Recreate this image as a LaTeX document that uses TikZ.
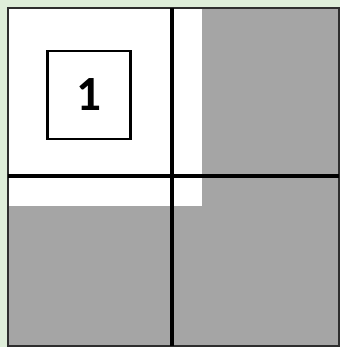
\documentclass[tikz,border=0pt]{standalone}
\usepackage{fontspec}
\setmainfont{Carlito}
\definecolor{gridgreen}{HTML}{DFEEDA}
\definecolor{gridgray}{HTML}{A5A5A5}
\definecolor{griddark}{HTML}{2E2E2E}

\begin{document}
\begin{tikzpicture}[
  x=0.2mm, y=-0.2mm,
  divider/.style={black, line width=2.1pt},
  labelbox/.style={draw=black, line width=1.6pt, minimum width=83*0.2mm, minimum height=88*0.2mm, inner sep=0pt, font=\fontsize{28}{30}\selectfont\bfseries}
]

% Light green sheet behind everything
\fill[gridgreen] (0,0) rectangle (340,347);
\useasboundingbox (0,0) rectangle (340,347);

% Corners of the grey square
\coordinate (tl) at (8,8);
\coordinate (br) at (339,346);

% Grey square with the white upper left part
\fill[gridgray] (tl) rectangle (br);
\fill[white] (tl) rectangle (202,206);
\draw[griddark, line width=1.4pt] (tl) rectangle (br);

% Crossing dividers
\coordinate (vtop) at (172,8);
\coordinate (vbot) at (172,346);
\coordinate (hleft) at (8,176);
\coordinate (hright) at (339,176);
\draw[divider] (vtop) -- (vbot);
\draw[divider] (hleft) -- (hright);

% Numbered box
\node[labelbox] (one) at (89,95) {1};

\end{tikzpicture}
\end{document}
